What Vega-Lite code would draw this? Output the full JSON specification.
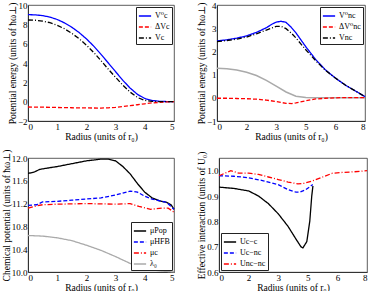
{
  "$schema": "https://vega.github.io/schema/vega-lite/v6.json",
  "padding": {"left": 0, "top": 0, "right": 0, "bottom": 0},
  "spacing": 7,
  "config": {
    "font": "Liberation Serif, DejaVu Serif, serif",
    "view": {"stroke": "#333", "strokeWidth": 0.8},
    "axis": {"grid": false, "domainColor": "#333", "ticks": false, "labelFont": "Liberation Serif, DejaVu Serif, serif", "titleFont": "Liberation Serif, DejaVu Serif, serif", "labelFontSize": 9, "titleFontSize": 9.5, "titleFontWeight": "normal", "labelColor": "black", "titleColor": "black", "labelPadding": 1, "titlePadding": 0, "labelOverlap": false},
    "legend": {"fillColor": "white", "strokeColor": "#222", "padding": 2, "labelFont": "Liberation Serif, DejaVu Serif, serif", "labelFontSize": 8, "symbolType": "stroke", "symbolSize": 150, "symbolStrokeWidth": 1.5, "rowPadding": -1, "offset": 2, "title": null, "labelLimit": 60, "labelOffset": 3},
    "text": {"font": "Liberation Serif, DejaVu Serif, serif"},
    "line": {"strokeWidth": 1.3}
  },
  "datasets": {
    "a": [
      {"s":"V⁰c","x":0,"y":9.0},{"s":"V⁰c","x":0.25,"y":8.98},{"s":"V⁰c","x":0.5,"y":8.9},{"s":"V⁰c","x":0.75,"y":8.75},{"s":"V⁰c","x":1,"y":8.5},{"s":"V⁰c","x":1.25,"y":8.15},{"s":"V⁰c","x":1.5,"y":7.7},{"s":"V⁰c","x":1.75,"y":7.15},{"s":"V⁰c","x":2,"y":6.5},{"s":"V⁰c","x":2.25,"y":5.75},{"s":"V⁰c","x":2.5,"y":4.9},{"s":"V⁰c","x":2.75,"y":4.0},{"s":"V⁰c","x":3,"y":3.1},{"s":"V⁰c","x":3.25,"y":2.2},{"s":"V⁰c","x":3.5,"y":1.4},{"s":"V⁰c","x":3.75,"y":0.75},{"s":"V⁰c","x":4,"y":0.33},{"s":"V⁰c","x":4.25,"y":0.12},{"s":"V⁰c","x":4.5,"y":0.04},{"s":"V⁰c","x":4.75,"y":0.01},{"s":"V⁰c","x":5,"y":0},
      {"s":"ΔVc","x":0,"y":-0.55},{"s":"ΔVc","x":0.5,"y":-0.57},{"s":"ΔVc","x":1,"y":-0.6},{"s":"ΔVc","x":1.5,"y":-0.63},{"s":"ΔVc","x":2,"y":-0.65},{"s":"ΔVc","x":2.5,"y":-0.66},{"s":"ΔVc","x":2.75,"y":-0.64},{"s":"ΔVc","x":3,"y":-0.58},{"s":"ΔVc","x":3.25,"y":-0.5},{"s":"ΔVc","x":3.5,"y":-0.42},{"s":"ΔVc","x":3.75,"y":-0.32},{"s":"ΔVc","x":4,"y":-0.22},{"s":"ΔVc","x":4.25,"y":-0.13},{"s":"ΔVc","x":4.5,"y":-0.07},{"s":"ΔVc","x":4.75,"y":-0.03},{"s":"ΔVc","x":5,"y":0},
      {"s":"Vc","x":0,"y":8.45},{"s":"Vc","x":0.25,"y":8.42},{"s":"Vc","x":0.5,"y":8.33},{"s":"Vc","x":0.75,"y":8.17},{"s":"Vc","x":1,"y":7.9},{"s":"Vc","x":1.25,"y":7.54},{"s":"Vc","x":1.5,"y":7.07},{"s":"Vc","x":1.75,"y":6.51},{"s":"Vc","x":2,"y":5.85},{"s":"Vc","x":2.25,"y":5.09},{"s":"Vc","x":2.5,"y":4.24},{"s":"Vc","x":2.75,"y":3.36},{"s":"Vc","x":3,"y":2.52},{"s":"Vc","x":3.25,"y":1.7},{"s":"Vc","x":3.5,"y":0.98},{"s":"Vc","x":3.75,"y":0.43},{"s":"Vc","x":4,"y":0.13},{"s":"Vc","x":4.25,"y":0.03},{"s":"Vc","x":4.5,"y":0.01},{"s":"Vc","x":5,"y":0}
    ],
    "b": [
      {"s":"V⁰nc","x":0,"y":2.45},{"s":"V⁰nc","x":0.5,"y":2.5},{"s":"V⁰nc","x":1,"y":2.57},{"s":"V⁰nc","x":1.5,"y":2.67},{"s":"V⁰nc","x":2,"y":2.82},{"s":"V⁰nc","x":2.5,"y":3.02},{"s":"V⁰nc","x":2.8,"y":3.18},{"s":"V⁰nc","x":3,"y":3.26},{"s":"V⁰nc","x":3.25,"y":3.3},{"s":"V⁰nc","x":3.5,"y":3.25},{"s":"V⁰nc","x":3.75,"y":3.05},{"s":"V⁰nc","x":4,"y":2.8},{"s":"V⁰nc","x":4.25,"y":2.5},{"s":"V⁰nc","x":4.5,"y":2.2},{"s":"V⁰nc","x":5,"y":1.65},{"s":"V⁰nc","x":5.5,"y":1.2},{"s":"V⁰nc","x":6,"y":0.85},{"s":"V⁰nc","x":6.5,"y":0.55},{"s":"V⁰nc","x":7,"y":0.3},{"s":"V⁰nc","x":7.5,"y":0.05},
      {"s":"ΔV⁰nc","x":0,"y":-0.02},{"s":"ΔV⁰nc","x":0.5,"y":-0.02},{"s":"ΔV⁰nc","x":1,"y":-0.03},{"s":"ΔV⁰nc","x":1.5,"y":-0.04},{"s":"ΔV⁰nc","x":2,"y":-0.06},{"s":"ΔV⁰nc","x":2.5,"y":-0.1},{"s":"ΔV⁰nc","x":3,"y":-0.16},{"s":"ΔV⁰nc","x":3.5,"y":-0.24},{"s":"ΔV⁰nc","x":3.8,"y":-0.25},{"s":"ΔV⁰nc","x":4,"y":-0.22},{"s":"ΔV⁰nc","x":4.5,"y":-0.13},{"s":"ΔV⁰nc","x":5,"y":-0.05},{"s":"ΔV⁰nc","x":5.5,"y":-0.02},{"s":"ΔV⁰nc","x":6,"y":0},{"s":"ΔV⁰nc","x":6.5,"y":0.01},{"s":"ΔV⁰nc","x":7,"y":0.01},{"s":"ΔV⁰nc","x":7.5,"y":0.01},
      {"s":"Vnc","x":0,"y":2.42},{"s":"Vnc","x":0.5,"y":2.47},{"s":"Vnc","x":1,"y":2.53},{"s":"Vnc","x":1.5,"y":2.62},{"s":"Vnc","x":2,"y":2.76},{"s":"Vnc","x":2.5,"y":2.92},{"s":"Vnc","x":3,"y":3.08},{"s":"Vnc","x":3.25,"y":3.08},{"s":"Vnc","x":3.5,"y":2.98},{"s":"Vnc","x":3.75,"y":2.8},{"s":"Vnc","x":4,"y":2.58},{"s":"Vnc","x":4.5,"y":2.07},{"s":"Vnc","x":5,"y":1.6},{"s":"Vnc","x":5.5,"y":1.18},{"s":"Vnc","x":6,"y":0.85},{"s":"Vnc","x":6.5,"y":0.55},{"s":"Vnc","x":7,"y":0.3},{"s":"Vnc","x":7.5,"y":0.05}
    ],
    "bg": [
      {"x":0,"y":1.27},{"x":0.5,"y":1.25},{"x":1,"y":1.2},{"x":1.5,"y":1.1},{"x":2,"y":0.96},{"x":2.5,"y":0.75},{"x":3,"y":0.5},{"x":3.5,"y":0.25},{"x":4,"y":0.07},{"x":4.5,"y":0.01},{"x":5,"y":0},{"x":7.5,"y":0}
    ],
    "c": [
      {"s":"μPop","x":0,"y":11.73},{"s":"μPop","x":0.2,"y":11.75},{"s":"μPop","x":0.4,"y":11.8},{"s":"μPop","x":0.75,"y":11.83},{"s":"μPop","x":1,"y":11.85},{"s":"μPop","x":1.5,"y":11.9},{"s":"μPop","x":2,"y":11.95},{"s":"μPop","x":2.5,"y":11.98},{"s":"μPop","x":2.75,"y":11.98},{"s":"μPop","x":3,"y":11.95},{"s":"μPop","x":3.25,"y":11.85},{"s":"μPop","x":3.5,"y":11.72},{"s":"μPop","x":3.75,"y":11.55},{"s":"μPop","x":4,"y":11.4},{"s":"μPop","x":4.25,"y":11.3},{"s":"μPop","x":4.5,"y":11.25},{"s":"μPop","x":4.75,"y":11.22},{"s":"μPop","x":4.9,"y":11.18},{"s":"μPop","x":5,"y":11.1},
      {"s":"μHFB","x":0,"y":11.17},{"s":"μHFB","x":0.3,"y":11.18},{"s":"μHFB","x":0.5,"y":11.23},{"s":"μHFB","x":1,"y":11.24},{"s":"μHFB","x":1.5,"y":11.26},{"s":"μHFB","x":2,"y":11.28},{"s":"μHFB","x":2.5,"y":11.3},{"s":"μHFB","x":3,"y":11.35},{"s":"μHFB","x":3.5,"y":11.42},{"s":"μHFB","x":3.75,"y":11.4},{"s":"μHFB","x":4,"y":11.33},{"s":"μHFB","x":4.25,"y":11.28},{"s":"μHFB","x":4.5,"y":11.25},{"s":"μHFB","x":4.75,"y":11.22},{"s":"μHFB","x":5,"y":11.1},
      {"s":"μc","x":0,"y":11.12},{"s":"μc","x":0.2,"y":11.15},{"s":"μc","x":0.5,"y":11.18},{"s":"μc","x":1,"y":11.19},{"s":"μc","x":2,"y":11.2},{"s":"μc","x":3,"y":11.19},{"s":"μc","x":3.5,"y":11.2},{"s":"μc","x":3.8,"y":11.15},{"s":"μc","x":4.2,"y":11.1},{"s":"μc","x":4.6,"y":11.12},{"s":"μc","x":4.8,"y":11.12},{"s":"μc","x":5,"y":11.05},
      {"s":"λ₀","x":0,"y":10.64},{"s":"λ₀","x":0.5,"y":10.63},{"s":"λ₀","x":1,"y":10.6},{"s":"λ₀","x":1.5,"y":10.55},{"s":"λ₀","x":2,"y":10.47},{"s":"λ₀","x":2.5,"y":10.38},{"s":"λ₀","x":3,"y":10.27},{"s":"λ₀","x":3.5,"y":10.15},{"s":"λ₀","x":4,"y":10.06},{"s":"λ₀","x":4.5,"y":10.02},{"s":"λ₀","x":5,"y":10.0}
    ],
    "d": [
      {"s":"Uc−c","x":0,"y":0.935},{"s":"Uc−c","x":0.75,"y":0.93},{"s":"Uc−c","x":1.5,"y":0.92},{"s":"Uc−c","x":2,"y":0.9},{"s":"Uc−c","x":2.5,"y":0.87},{"s":"Uc−c","x":3,"y":0.83},{"s":"Uc−c","x":3.5,"y":0.78},{"s":"Uc−c","x":3.9,"y":0.73},{"s":"Uc−c","x":4.15,"y":0.7},{"s":"Uc−c","x":4.25,"y":0.695},{"s":"Uc−c","x":4.45,"y":0.72},{"s":"Uc−c","x":4.6,"y":0.8},{"s":"Uc−c","x":4.7,"y":0.9},{"s":"Uc−c","x":4.76,"y":0.94},
      {"s":"Uc−nc","x":0,"y":0.98},{"s":"Uc−nc","x":0.75,"y":0.978},{"s":"Uc−nc","x":1.5,"y":0.972},{"s":"Uc−nc","x":2.25,"y":0.96},{"s":"Uc−nc","x":3,"y":0.945},{"s":"Uc−nc","x":3.5,"y":0.925},{"s":"Uc−nc","x":3.9,"y":0.915},{"s":"Uc−nc","x":4.1,"y":0.915},{"s":"Uc−nc","x":4.4,"y":0.925},{"s":"Uc−nc","x":4.75,"y":0.945},
      {"s":"Unc−nc","x":0,"y":0.98},{"s":"Unc−nc","x":0.3,"y":0.99},{"s":"Unc−nc","x":0.6,"y":1.0},{"s":"Unc−nc","x":1,"y":0.99},{"s":"Unc−nc","x":1.5,"y":0.99},{"s":"Unc−nc","x":2,"y":0.985},{"s":"Unc−nc","x":2.5,"y":0.975},{"s":"Unc−nc","x":3,"y":0.965},{"s":"Unc−nc","x":3.5,"y":0.955},{"s":"Unc−nc","x":4,"y":0.948},{"s":"Unc−nc","x":4.3,"y":0.95},{"s":"Unc−nc","x":4.75,"y":0.96},{"s":"Unc−nc","x":5.25,"y":0.975},{"s":"Unc−nc","x":5.75,"y":0.99},{"s":"Unc−nc","x":6.25,"y":0.993},{"s":"Unc−nc","x":6.75,"y":0.995},{"s":"Unc−nc","x":7.5,"y":1.0}
    ]
  },
  "resolve": {"scale": {"x": "independent", "y": "independent", "color": "independent", "strokeDash": "independent"}, "axis": {"x": "independent", "y": "independent"}, "legend": {"color": "independent", "strokeDash": "independent"}},
  "vconcat": [
    {
      "spacing": 19,
      "hconcat": [
        {
          "width": 146, "height": 116,
          "layer": [
            {"mark": {"type": "rule", "color": "#aaa", "strokeWidth": 1.5}, "encoding": {"y": {"datum": 0, "type": "quantitative", "scale": {"domain": [-2, 10], "nice": false}, "axis": {"values": [-2,0,2,4,6,8,10], "title": "Potential energy (units of ħω⊥)"}}}},
            {
              "data": {"name": "a"},
              "mark": {"type": "line"},
              "encoding": {
                "x": {"field": "x", "type": "quantitative", "scale": {"domain": [0, 5], "nice": false}, "axis": {"values": [0,1,2,3,4,5], "title": "Radius (units of r₀)"}},
                "y": {"field": "y", "type": "quantitative", "scale": {"domain": [-2, 10], "nice": false}, "axis": {"values": [-2,0,2,4,6,8,10], "title": "Potential energy (units of ħω⊥)"}},
                "color": {"field": "s", "type": "nominal", "sort": ["V⁰c","ΔVc","Vc"], "scale": {"domain": ["V⁰c","ΔVc","Vc"], "range": ["#0000ff","#ff0000","#000000"]}, "legend": {"orient": "top-right"}},
                "strokeDash": {"field": "s", "type": "nominal", "sort": ["V⁰c","ΔVc","Vc"], "scale": {"domain": ["V⁰c","ΔVc","Vc"], "range": [[1,0],[4,2],[5,2,1,2]]}, "legend": {"orient": "top-right"}}
              }
            },
            {"mark": {"type": "text", "text": "(a)", "align": "left", "baseline": "top", "dx": 1, "dy": 1, "fontSize": 9}, "encoding": {
              "x": {"datum": 0, "type": "quantitative", "scale": {"domain": [0, 5], "nice": false}, "axis": {"values": [0,1,2,3,4,5], "title": "Radius (units of r₀)"}},
              "y": {"datum": 10, "type": "quantitative", "scale": {"domain": [-2, 10], "nice": false}, "axis": {"values": [-2,0,2,4,6,8,10], "title": "Potential energy (units of ħω⊥)"}}}}
          ]
        },
        {
          "width": 148, "height": 116,
          "layer": [
            {"mark": {"type": "rule", "color": "#aaa", "strokeWidth": 1}, "encoding": {"y": {"datum": 0, "type": "quantitative", "scale": {"domain": [-1, 4], "nice": false}, "axis": {"values": [-1,0,1,2,3,4], "title": "Potential energy (units of ħω⊥)"}}}},
            {"data": {"name": "bg"}, "mark": {"type": "line", "color": "#aaa", "strokeWidth": 1.5}, "encoding": {
              "x": {"field": "x", "type": "quantitative", "scale": {"domain": [0, 7.5], "nice": false}, "axis": {"values": [0,1.5,3,4.5,6,7.5], "title": "Radius (units of r₀)"}},
              "y": {"field": "y", "type": "quantitative", "scale": {"domain": [-1, 4], "nice": false}, "axis": {"values": [-1,0,1,2,3,4], "title": "Potential energy (units of ħω⊥)"}}}},
            {
              "data": {"name": "b"},
              "mark": {"type": "line"},
              "encoding": {
                "x": {"field": "x", "type": "quantitative", "scale": {"domain": [0, 7.5], "nice": false}, "axis": {"values": [0,1.5,3,4.5,6,7.5], "title": "Radius (units of r₀)"}},
                "y": {"field": "y", "type": "quantitative", "scale": {"domain": [-1, 4], "nice": false}, "axis": {"values": [-1,0,1,2,3,4], "title": "Potential energy (units of ħω⊥)"}},
                "color": {"field": "s", "type": "nominal", "sort": ["V⁰nc","ΔV⁰nc","Vnc"], "scale": {"domain": ["V⁰nc","ΔV⁰nc","Vnc"], "range": ["#0000ff","#ff0000","#000000"]}, "legend": {"orient": "top-right"}},
                "strokeDash": {"field": "s", "type": "nominal", "sort": ["V⁰nc","ΔV⁰nc","Vnc"], "scale": {"domain": ["V⁰nc","ΔV⁰nc","Vnc"], "range": [[1,0],[4,2],[5,2,1,2]]}, "legend": {"orient": "top-right"}}
              }
            },
            {"mark": {"type": "text", "text": "(b)", "align": "left", "baseline": "top", "dx": 1, "dy": 1, "fontSize": 9}, "encoding": {
              "x": {"datum": 0, "type": "quantitative", "scale": {"domain": [0, 7.5], "nice": false}, "axis": {"values": [0,1.5,3,4.5,6,7.5], "title": "Radius (units of r₀)"}},
              "y": {"datum": 4, "type": "quantitative", "scale": {"domain": [-1, 4], "nice": false}, "axis": {"values": [-1,0,1,2,3,4], "title": "Potential energy (units of ħω⊥)"}}}}
          ]
        }
      ],
      "resolve": {"scale": {"x": "independent", "y": "independent", "color": "independent", "strokeDash": "independent"}, "axis": {"x": "independent", "y": "independent"}, "legend": {"color": "independent", "strokeDash": "independent"}}
    },
    {
      "spacing": 19,
      "hconcat": [
        {
          "width": 146, "height": 114,
          "layer": [
            {"mark": {"type": "rule", "color": "#999", "strokeWidth": 1}, "encoding": {"y": {"datum": 11.2, "type": "quantitative", "scale": {"domain": [10, 12], "nice": false}, "axis": {"values": [10,10.4,10.8,11.2,11.6,12], "format": ".1f", "title": "Chemical potential (units of ħω⊥)"}}}},
            {
              "data": {"name": "c"},
              "mark": {"type": "line"},
              "encoding": {
                "x": {"field": "x", "type": "quantitative", "scale": {"domain": [0, 5], "nice": false}, "axis": {"values": [0,1,2,3,4,5], "title": "Radius (units of r₀)"}},
                "y": {"field": "y", "type": "quantitative", "scale": {"domain": [10, 12], "nice": false}, "axis": {"values": [10,10.4,10.8,11.2,11.6,12], "format": ".1f", "title": "Chemical potential (units of ħω⊥)"}},
                "color": {"field": "s", "type": "nominal", "sort": ["μPop","μHFB","μc","λ₀"], "scale": {"domain": ["μPop","μHFB","μc","λ₀"], "range": ["#000000","#0000ff","#ff0000","#aaaaaa"]}, "legend": {"orient": "bottom-right"}},
                "strokeDash": {"field": "s", "type": "nominal", "sort": ["μPop","μHFB","μc","λ₀"], "scale": {"domain": ["μPop","μHFB","μc","λ₀"], "range": [[1,0],[4,2],[5,2,1,2],[1,0]]}, "legend": {"orient": "bottom-right"}}
              }
            },
            {"mark": {"type": "text", "text": "(c)", "align": "left", "baseline": "top", "dx": 1, "dy": 1, "fontSize": 9}, "encoding": {
              "x": {"datum": 0, "type": "quantitative", "scale": {"domain": [0, 5], "nice": false}, "axis": {"values": [0,1,2,3,4,5], "title": "Radius (units of r₀)"}},
              "y": {"datum": 12, "type": "quantitative", "scale": {"domain": [10, 12], "nice": false}, "axis": {"values": [10,10.4,10.8,11.2,11.6,12], "format": ".1f", "title": "Chemical potential (units of ħω⊥)"}}}}
          ]
        },
        {
          "width": 148, "height": 114,
          "layer": [
            {"mark": {"type": "rule", "color": "#999", "strokeWidth": 1}, "encoding": {"y": {"datum": 1.0, "type": "quantitative", "scale": {"domain": [0.6, 1.05], "nice": false}, "axis": {"values": [0.6,0.7,0.8,0.9,1.0], "format": ".1f", "title": "Effective interaction (units of U₀)"}}}},
            {
              "data": {"name": "d"},
              "mark": {"type": "line"},
              "encoding": {
                "x": {"field": "x", "type": "quantitative", "scale": {"domain": [0, 7.5], "nice": false}, "axis": {"values": [0,1.5,3,4.5,6,7.5], "title": "Radius (units of r₀)"}},
                "y": {"field": "y", "type": "quantitative", "scale": {"domain": [0.6, 1.05], "nice": false}, "axis": {"values": [0.6,0.7,0.8,0.9,1.0], "format": ".1f", "title": "Effective interaction (units of U₀)"}},
                "color": {"field": "s", "type": "nominal", "sort": ["Uc−c","Uc−nc","Unc−nc"], "scale": {"domain": ["Uc−c","Uc−nc","Unc−nc"], "range": ["#000000","#0000ff","#ff0000"]}, "legend": {"orient": "bottom-left"}},
                "strokeDash": {"field": "s", "type": "nominal", "sort": ["Uc−c","Uc−nc","Unc−nc"], "scale": {"domain": ["Uc−c","Uc−nc","Unc−nc"], "range": [[1,0],[4,2],[5,2,1,2]]}, "legend": {"orient": "bottom-left"}}
              }
            },
            {"mark": {"type": "text", "text": "(d)", "align": "left", "baseline": "top", "dx": 1, "dy": 1, "fontSize": 9}, "encoding": {
              "x": {"datum": 0, "type": "quantitative", "scale": {"domain": [0, 7.5], "nice": false}, "axis": {"values": [0,1.5,3,4.5,6,7.5], "title": "Radius (units of r₀)"}},
              "y": {"datum": 1.05, "type": "quantitative", "scale": {"domain": [0.6, 1.05], "nice": false}, "axis": {"values": [0.6,0.7,0.8,0.9,1.0], "format": ".1f", "title": "Effective interaction (units of U₀)"}}}}
          ]
        }
      ],
      "resolve": {"scale": {"x": "independent", "y": "independent", "color": "independent", "strokeDash": "independent"}, "axis": {"x": "independent", "y": "independent"}, "legend": {"color": "independent", "strokeDash": "independent"}}
    }
  ]
}
